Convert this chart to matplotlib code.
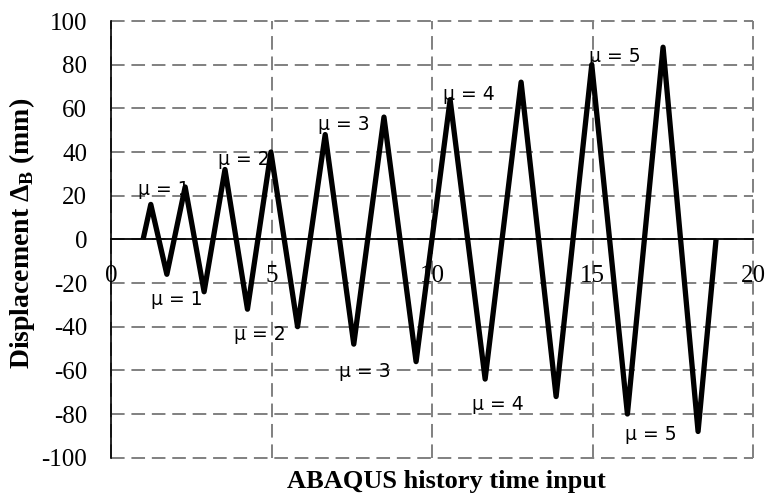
import matplotlib
matplotlib.use("Agg")
import matplotlib.pyplot as plt

# cyclic displacement history
time = [1.0, 1.24, 1.74, 2.31, 2.9, 3.55, 4.25, 4.98, 5.81, 6.67, 7.56,
        8.5, 9.5, 10.56, 11.65, 12.77, 13.86, 14.97, 16.08, 17.19, 18.28, 18.84]
disp = [0, 16, -16, 24, -24, 32, -32, 40, -40, 48, -48,
        56, -56, 64, -64, 72, -72, 80, -80, 88, -88, 0]

# ductility annotations
mu_text = ["μ = 1", "μ = 2", "μ = 3", "μ = 4", "μ = 5",
           "μ = 1", "μ = 2", "μ = 3", "μ = 4", "μ = 5"]
mu_x = [0.85, 3.34, 6.46, 10.33, 14.89, 1.24, 3.83, 7.11, 11.24, 16.01]
mu_y = [20.5, 33.9, 49.9, 63.6, 81.1, -30.2, -46.2, -63.0, -78.3, -92.0]

x_ticks = [0, 5, 10, 15, 20]
y_ticks = [-100, -80, -60, -40, -20, 0, 20, 40, 60, 80, 100]

plt.rcParams["mathtext.fontset"] = "custom"
plt.rcParams["mathtext.rm"] = "Liberation Serif"
plt.rcParams["mathtext.bf"] = "Liberation Serif:bold"

fig = plt.figure(figsize=(7.69, 4.97), dpi=100)
ax = fig.add_axes([0.1443, 0.0791, 0.8353, 0.8786])

# spines first: moving a spine resets the tick labels
ax.spines["top"].set_visible(False)
ax.spines["right"].set_visible(False)
ax.spines["bottom"].set_position(("data", 0))
ax.spines["bottom"].set_linewidth(1.3)
ax.spines["left"].set_linewidth(1.2)
ax.spines["bottom"].set_zorder(2.5)

ax.plot(time, disp, color="black", lw=3.8, solid_capstyle="butt", zorder=3)

for t, x, y in zip(mu_text, mu_x, mu_y):
    ax.text(x, y, t, fontsize=13.5, family="DejaVu Sans", ha="left", va="baseline", zorder=4)

ax.set_xlim(0, 20)
ax.set_ylim(-100, 100)
ax.set_xticks(x_ticks)
ax.set_yticks(y_ticks)
ax.set_xticklabels([str(v) for v in x_ticks], family="Liberation Serif", fontsize=18)
ax.set_yticklabels([str(v) for v in y_ticks], family="Liberation Serif", fontsize=18)
ax.tick_params(axis="x", length=0, pad=18.5)
ax.tick_params(axis="y", length=0, pad=17)

ax.set_axisbelow(True)
ax.grid(True, color="#808080", lw=1.4, linestyle=(0, (7, 3.5)))
for gl in ax.get_xgridlines() + ax.get_ygridlines():
    gl.set_clip_on(False)

fig.text(0.5808, 0.018, "ABAQUS history time input", family="Liberation Serif",
         fontweight="bold", fontsize=19, ha="center", va="baseline")
fig.text(0.028, 0.530, r"Displacement $\mathbf{\Delta}_{\mathbf{B}}$ (mm)",
         family="Liberation Serif", fontweight="bold", fontsize=20,
         rotation=90, ha="center", va="center")

fig.savefig("out.png", dpi=100)
